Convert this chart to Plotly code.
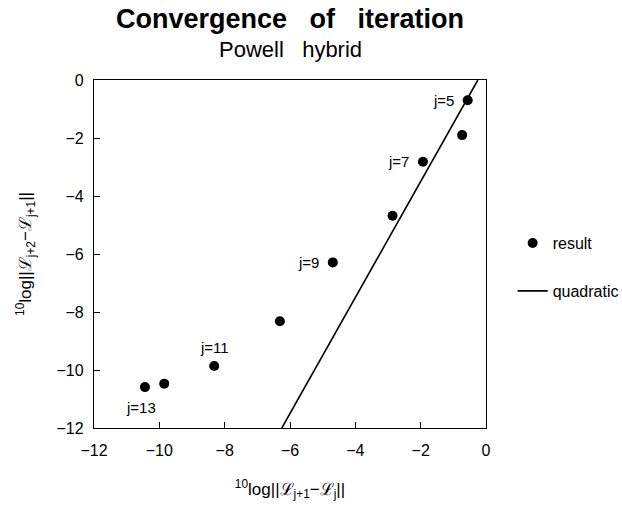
import plotly.graph_objects as go

# Data
res_x = [-0.56, -0.73, -1.93, -2.86, -4.69, -6.31, -8.32, -9.85, -10.44]
res_y = [-0.70, -1.90, -2.82, -4.68, -6.29, -8.32, -9.86, -10.47, -10.59]
iter_j = [5, 6, 7, 8, 9, 10, 11, 12, 13]
labelled_j = [5, 7, 9, 11, 13]

quad_x = [-6.25, -0.25]
quad_y = [-12.0, 0.0]

tick_vals = [-12, -10, -8, -6, -4, -2, 0]

FONT = "Liberation Sans, Arial, sans-serif"

fig = go.Figure()
fig.add_trace(go.Scatter(
    x=res_x, y=res_y, mode="markers", name="result",
    marker=dict(color="black", size=10, symbol="circle"),
    legendgroup="a",
))
fig.add_trace(go.Scatter(
    x=quad_x, y=quad_y, mode="lines", name="quadratic",
    line=dict(color="black", width=1.6),
    legendgroup="b",
))

# j labels
offsets = {5: (-12, 0, "right", "middle"),
           7: (-12, 0, "right", "middle"),
           9: (-12, 0, "right", "middle"),
           11: (0, 18, "center", "middle"),
           13: (-4, -20, "center", "middle")}
for j, x, y in zip(iter_j, res_x, res_y):
    if j in labelled_j:
        dx, dy, xa, ya = offsets[j]
        fig.add_annotation(x=x, y=y, text=f"j={j}", showarrow=False,
                           xanchor=xa, yanchor=ya, xshift=dx, yshift=dy,
                           font=dict(size=15, color="black", family=FONT))

fig.update_layout(
    width=622, height=515,
    margin=dict(l=94, r=136, t=80, b=87, autoexpand=False),
    paper_bgcolor="white", plot_bgcolor="white",
    font=dict(family=FONT, color="black", size=16),
    showlegend=True,
    legend=dict(x=1.068, y=0.58, xanchor="left", yanchor="top",
                traceorder="grouped", tracegroupgap=24,
                font=dict(size=16, family=FONT), itemwidth=30,
                bgcolor="rgba(0,0,0,0)"),
)

fig.add_annotation(xref="paper", yref="paper", x=0.5, y=1, yanchor="bottom",
                   yshift=44, showarrow=False,
                   text="<b>Convergence\u00a0\u00a0\u00a0of\u00a0\u00a0\u00a0iteration</b>",
                   font=dict(size=27, family=FONT, color="black"))
fig.add_annotation(xref="paper", yref="paper", x=0.5, y=1, yanchor="bottom",
                   yshift=16, showarrow=False,
                   text="Powell\u00a0\u00a0\u00a0hybrid",
                   font=dict(size=22, family=FONT, color="black"))

axis_common = dict(
    range=[-12, 0], tickvals=tick_vals, showgrid=False, zeroline=False,
    showline=True, linecolor="black", linewidth=1.3, mirror=True,
    ticks="inside", ticklen=6, tickcolor="black", tickwidth=1.3,
    tickfont=dict(size=16, family=FONT, color="black"),
)
fig.update_xaxes(**axis_common,
                 title=dict(text="<sup>10</sup>log||ℒ<sub>j+1</sub>−ℒ<sub>j</sub>||",
                            font=dict(size=17, family=FONT), standoff=24),
                 ticklabelstandoff=8)
fig.update_yaxes(**axis_common,
                 title=dict(text="<sup>10</sup>log||ℒ<sub>j+2</sub>−ℒ<sub>j+1</sub>||",
                            font=dict(size=17, family=FONT), standoff=20),
                 ticklabelstandoff=6)

fig.write_html("out.html")
